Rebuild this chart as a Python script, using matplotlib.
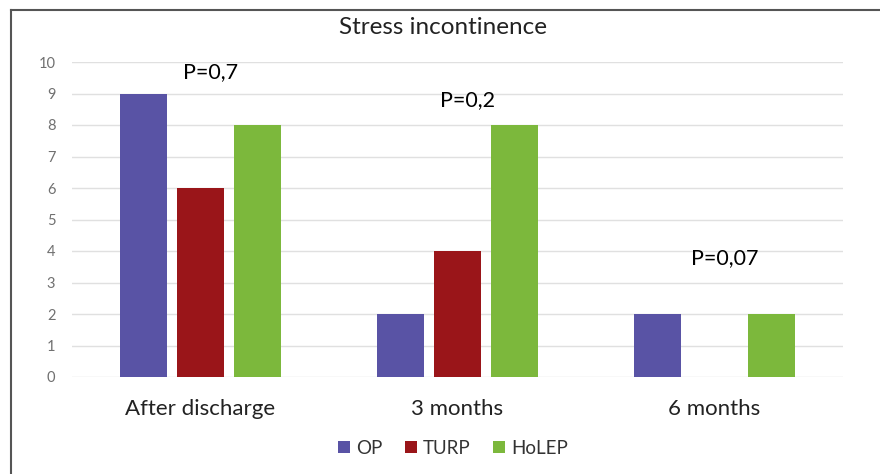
import matplotlib
matplotlib.use('Agg')
import matplotlib.pyplot as plt
import numpy as np
from matplotlib.lines import Line2D

plt.rcParams['font.family'] = ['Lato', 'DejaVu Sans']

categories = ['After discharge', '3 months', '6 months']
series = ['OP', 'TURP', 'HoLEP']
op = [9, 2, 2]
turp = [6, 4, 0]
holep = [8, 8, 2]
p_labels = ['P=0,7', 'P=0,2', 'P=0,07']
p_heights = [9.68, 8.79, 3.78]
colors = ['#5953a5', '#9a1519', '#7cb83c']

fig = plt.figure(figsize=(8.8, 4.74), dpi=100)
ax = fig.add_axes([72/880, 1-377/474, 771/880, 315/474])

x = np.arange(len(categories))
w = 0.18
step = 0.222
for i, (vals, name) in enumerate(zip([op, turp, holep], series)):
    ax.bar(x + (i-1)*step, vals, width=w, color=colors[i], label=name, zorder=3)

for xi, lab, h in zip(x, p_labels, p_heights):
    ax.text(xi + 0.04, h, lab, ha='center', va='center', fontsize=15.5, color='#000000')

ax.set_xlim(-0.5, 2.5)
ax.set_ylim(0, 10)
ax.set_yticks(range(0, 11))
ax.set_xticks(x)
ax.set_xticklabels(categories, fontsize=16, color='#222222')
ax.tick_params(axis='y', length=0, labelsize=10.5, colors='#707070', pad=12)
ax.tick_params(axis='x', length=0, pad=16)
ax.grid(axis='y', color='#e0e0e0', linewidth=1, zorder=0)
for s in ax.spines.values():
    s.set_visible(False)

fig.text(443/880, 1-28/474, 'Stress incontinence', ha='center', va='center', fontsize=17.5, color='#222222')

fig.legend(loc='center', bbox_to_anchor=(453/880, 1-448/474), ncol=3, frameon=False,
           fontsize=13.5, handlelength=0.65, handleheight=0.65, handletextpad=0.3, columnspacing=1.2,
           labelcolor='#333333')

# frame lines
fig.add_artist(Line2D([11/880, 11/880], [0, 1-10/474], transform=fig.transFigure, color='#555555', lw=1.5))
fig.add_artist(Line2D([11/880, 1], [1-10/474, 1-10/474], transform=fig.transFigure, color='#555555', lw=1.5))

fig.savefig('out.png', dpi=100)
